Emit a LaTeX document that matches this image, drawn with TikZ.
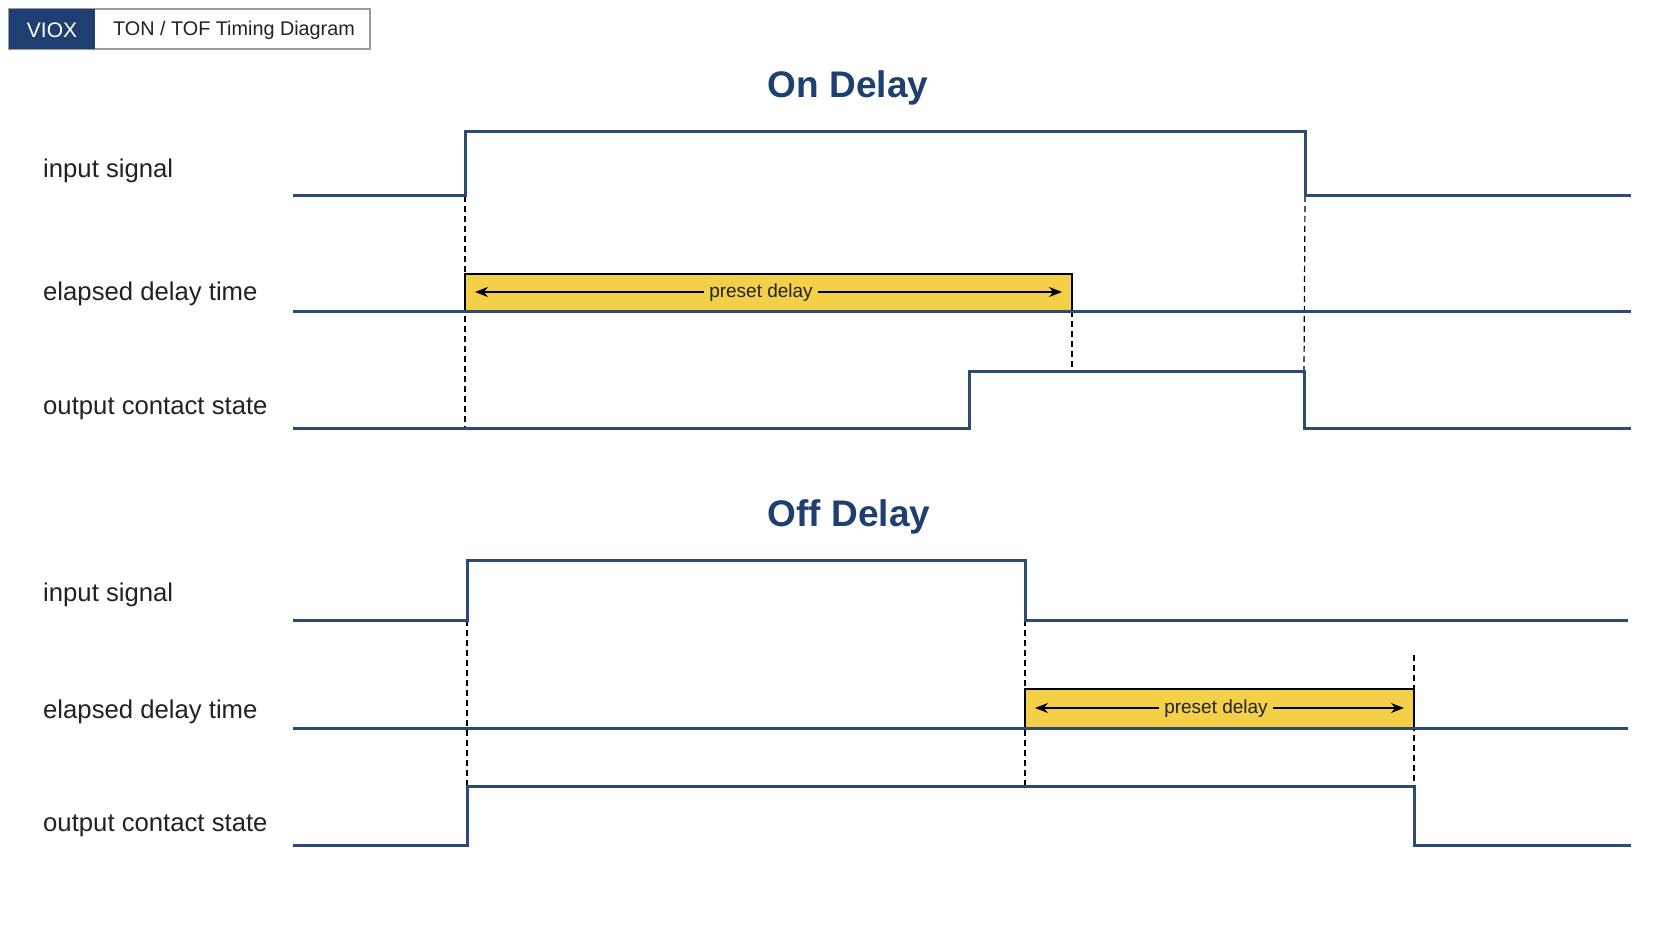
\documentclass[tikz,border=0pt]{standalone}
\usepackage{fontspec}
\setmainfont{Liberation Sans}
\usetikzlibrary{arrows.meta}
\definecolor{sig}{HTML}{2C4A74}
\definecolor{navy}{HTML}{1E3F6F}
\definecolor{barfill}{HTML}{F3D048}
\definecolor{txt}{HTML}{222222}
\definecolor{frame}{HTML}{9A9A9A}
\begin{document}
\begin{tikzpicture}[x=1pt,y=-1pt,
  wave/.style={draw=sig, line width=3pt, line join=miter},
  guide/.style={draw=black, line width=1.2pt, dash pattern=on 6pt off 4pt},
  delaybar/.style={draw=black, line width=1.8pt, fill=barfill},
  lbl/.style={anchor=west, text=txt, inner sep=0pt, font=\fontsize{25.7}{30}\selectfont},
  ttl/.style={text=navy, inner sep=0pt, font=\fontsize{37}{44}\selectfont\bfseries},
  pd/.style={text=txt, inner sep=5pt, font=\fontsize{19}{23}\selectfont},
  dimarrow/.style={-{Stealth[length=13pt,width=10pt]}, line width=1.3pt, draw=black}]
\useasboundingbox (0,0) rectangle (1672,941);
\fill[white] (0,0) rectangle (1672,941);

% badge
\coordinate (bA) at (9,9);
\coordinate (bB) at (370,49);
\coordinate (bC) at (95,49);
\draw[frame, line width=1.2pt, fill=white] (bA) rectangle (bB);
\fill[navy] (bA) rectangle (bC);
\node[text=white, inner sep=0pt, font=\fontsize{21}{25}\selectfont] (viox) at (52,30) {VIOX};
\node[text=txt, inner sep=0pt, font=\fontsize{19.8}{24}\selectfont] (badge) at (234,30) {TON / TOF Timing Diagram};

% titles
\node[ttl] (t1) at (848,88) {On Delay};
\node[ttl] (t2) at (849,517) {Off Delay};

% labels
\node[lbl] (l1) at (43,171) {input signal};
\node[lbl] (l2) at (43,294) {elapsed delay time};
\node[lbl] (l3) at (43,409) {output contact state};
\node[lbl] (l4) at (43,595) {input signal};
\node[lbl] (l5) at (43,712) {elapsed delay time};
\node[lbl] (l6) at (43,826) {output contact state};

% ================= On Delay =================
\coordinate (ai0) at (293,196);
\coordinate (ai1) at (465,196);
\coordinate (ai2) at (465,132);
\coordinate (ai3) at (1305,132);
\coordinate (ai4) at (1305,196);
\coordinate (ai5) at (1631,196);

\coordinate (ae0) at (293,311);
\coordinate (ae1) at (1631,311);
\coordinate (abL) at (465,274);
\coordinate (abR) at (1072,311);

\coordinate (ao0) at (293,428);
\coordinate (ao1) at (969,428);
\coordinate (ao2) at (969,371);
\coordinate (ao3) at (1304,371);
\coordinate (ao4) at (1304,428);
\coordinate (ao5) at (1631,428);

\coordinate (ad1) at (465,428);
\coordinate (ad2a) at (1072,311);
\coordinate (ad2b) at (1072,371);

\draw[guide] (ai1) -- (ad1);
\draw[guide] (ad2a) -- (ad2b);
\draw[guide] (ai4) -- (ao3);

\draw[delaybar] (abL) rectangle (abR);
\node[pd] (pd1) at (761,293) {preset delay};
\coordinate (aaL) at (475,292);
\coordinate (aaR) at (1062,292);
\draw[dimarrow] (pd1.west |- aaL) -- (aaL);
\draw[dimarrow] (pd1.east |- aaR) -- (aaR);

\draw[wave] (ai0) -- (ai1) -- (ai2) -- (ai3) -- (ai4) -- (ai5);
\draw[wave] (ae0) -- (ae1);
\draw[wave] (ao0) -- (ao1) -- (ao2) -- (ao3) -- (ao4) -- (ao5);

% ================= Off Delay =================
\coordinate (bi0) at (293,620);
\coordinate (bi1) at (467,620);
\coordinate (bi2) at (467,560);
\coordinate (bi3) at (1025,560);
\coordinate (bi4) at (1025,620);
\coordinate (bi5) at (1628,620);

\coordinate (be0) at (293,728);
\coordinate (be1) at (1628,728);
\coordinate (bbL) at (1025,689);
\coordinate (bbR) at (1414,728);

\coordinate (bo0) at (293,845);
\coordinate (bo1) at (467,845);
\coordinate (bo2) at (467,786);
\coordinate (bo3) at (1414,786);
\coordinate (bo4) at (1414,845);
\coordinate (bo5) at (1631,845);

\coordinate (bd2) at (1025,786);
\coordinate (bd3) at (1414,655);

\draw[guide] (bi1) -- (bo2);
\draw[guide] (bi4) -- (bd2);
\draw[guide] (bd3) -- (bo3);

\draw[delaybar] (bbL) rectangle (bbR);
\node[pd] (pd2) at (1216,709) {preset delay};
\coordinate (baL) at (1035,708);
\coordinate (baR) at (1404,708);
\draw[dimarrow] (pd2.west |- baL) -- (baL);
\draw[dimarrow] (pd2.east |- baR) -- (baR);

\draw[wave] (bi0) -- (bi1) -- (bi2) -- (bi3) -- (bi4) -- (bi5);
\draw[wave] (be0) -- (be1);
\draw[wave] (bo0) -- (bo1) -- (bo2) -- (bo3) -- (bo4) -- (bo5);
\end{tikzpicture}
\end{document}
